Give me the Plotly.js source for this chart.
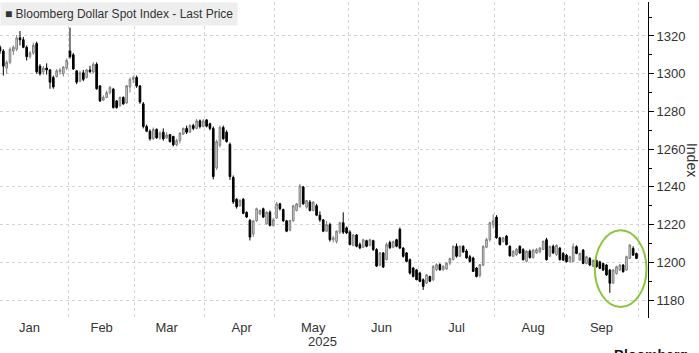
<!DOCTYPE html>
<html>
<head>
<meta charset="utf-8">
<script src="https://cdn.plot.ly/plotly-3.0.1.min.js"></script>
<style>html,body{margin:0;padding:0;background:#fff;}#chart{width:699px;height:353px;}</style>
</head>
<body>
<div id="chart"></div>
<script>
// Bloomberg Dollar Spot Index, daily OHLC, 2025
const dates = [
 '2025-01-02','2025-01-03','2025-01-06','2025-01-07','2025-01-08','2025-01-09','2025-01-10','2025-01-13','2025-01-14','2025-01-15','2025-01-16','2025-01-17','2025-01-20','2025-01-21','2025-01-22','2025-01-23','2025-01-24','2025-01-27','2025-01-28','2025-01-29','2025-01-30','2025-01-31',
 '2025-02-03','2025-02-04','2025-02-05','2025-02-06','2025-02-07','2025-02-10','2025-02-11','2025-02-12','2025-02-13','2025-02-14','2025-02-17','2025-02-18','2025-02-19','2025-02-20','2025-02-21','2025-02-24','2025-02-25','2025-02-26','2025-02-27','2025-02-28',
 '2025-03-03','2025-03-04','2025-03-05','2025-03-06','2025-03-07','2025-03-10','2025-03-11','2025-03-12','2025-03-13','2025-03-14','2025-03-17','2025-03-18','2025-03-19','2025-03-20','2025-03-21','2025-03-24','2025-03-25','2025-03-26','2025-03-27','2025-03-28','2025-03-31',
 '2025-04-01','2025-04-02','2025-04-03','2025-04-04','2025-04-07','2025-04-08','2025-04-09','2025-04-10','2025-04-11','2025-04-14','2025-04-15','2025-04-16','2025-04-17','2025-04-21','2025-04-22','2025-04-23','2025-04-24','2025-04-25','2025-04-28','2025-04-29','2025-04-30',
 '2025-05-01','2025-05-02','2025-05-05','2025-05-06','2025-05-07','2025-05-08','2025-05-09','2025-05-12','2025-05-13','2025-05-14','2025-05-15','2025-05-16','2025-05-19','2025-05-20','2025-05-21','2025-05-22','2025-05-23','2025-05-26','2025-05-27','2025-05-28','2025-05-29','2025-05-30',
 '2025-06-02','2025-06-03','2025-06-04','2025-06-05','2025-06-06','2025-06-09','2025-06-10','2025-06-11','2025-06-12','2025-06-13','2025-06-16','2025-06-17','2025-06-18','2025-06-19','2025-06-20','2025-06-23','2025-06-24','2025-06-25','2025-06-26','2025-06-27','2025-06-30',
 '2025-07-01','2025-07-02','2025-07-03','2025-07-04','2025-07-07','2025-07-08','2025-07-09','2025-07-10','2025-07-11','2025-07-14','2025-07-15','2025-07-16','2025-07-17','2025-07-18','2025-07-21','2025-07-22','2025-07-23','2025-07-24','2025-07-25','2025-07-28','2025-07-29','2025-07-30','2025-07-31',
 '2025-08-01','2025-08-04','2025-08-05','2025-08-06','2025-08-07','2025-08-08','2025-08-11','2025-08-12','2025-08-13','2025-08-14','2025-08-15','2025-08-18','2025-08-19','2025-08-20','2025-08-21','2025-08-22','2025-08-25','2025-08-26','2025-08-27','2025-08-28','2025-08-29',
 '2025-09-01','2025-09-02','2025-09-03','2025-09-04','2025-09-05','2025-09-08','2025-09-09','2025-09-10','2025-09-11','2025-09-12','2025-09-15','2025-09-16','2025-09-17','2025-09-18','2025-09-19','2025-09-22','2025-09-23','2025-09-24','2025-09-25','2025-09-26','2025-09-29','2025-09-30'
];
const openP = [
 1310,1314,1312,1303,1306,1312,1313,1319,1318,1314,1309,1311,1316,1304,1301,1303,1302,1298,1298.5,1301,1300,1303,
 1312,1310,1301.5,1296,1300.5,1298,1302,1301,1305,1293.5,1286,1287.4,1290,1291.8,1285.6,1283,1287.4,1284.5,1293,1297,
 1298,1293.5,1284,1272,1269.5,1265.5,1270.5,1266,1269,1266,1267.7,1266.8,1262.3,1264.5,1268,1271,1269,1272.5,1271,1275,1272,
 1275.5,1273.5,1271,1250,1262,1271.5,1269,1262.5,1245,1233.5,1230,1233.5,1226.5,1222.2,1215,1222,1225.7,1228.4,1220.5,1226.6,1219.6,
 1223.5,1231,1228,1222,1217,1222,1227.5,1229.5,1240,1229.3,1232,1227.5,1230,1225,1222.5,1216.5,1220,1212,1211,1216,1221,1218.3,
 1216,1209,1214.5,1209.5,1208,1211.5,1209,1211.5,1206.8,1198.5,1205,1201.5,1210.5,1208,1212,1217.5,1207.6,1205,1201.4,1197,1196,
 1194.3,1190.8,1189,1192.5,1190.8,1196.1,1198.8,1196.1,1196.5,1199.6,1201.5,1208.5,1203.2,1208.5,1206,1203,1202.3,1197,1193,1198.5,1208,1212,1220,
 1224,1213,1211,1213.9,1208.5,1203.2,1204,1208.5,1206.8,1200.5,1206,1202.5,1205,1205.5,1206.8,1212,1203.2,1208.5,1204,1207.6,1204.7,
 1203.8,1200.3,1200.5,1208.3,1201.2,1206.5,1199.4,1202.1,1198,1201,1200.3,1199.4,1198.6,1195.9,1189,1194.1,1195.9,1198.6,1195.9,1202.1,1207.4,1204.7
];
const highP = [
 1316,1315,1313,1307,1314,1315,1320.5,1322.6,1319.5,1315,1312,1316.5,1317,1305,1304,1305.5,1302.5,1299,1302.5,1303,1304,1308,
 1324.4,1311,1302,1301.5,1302,1302.5,1304.2,1306,1306,1294,1288.5,1291,1293.5,1292.5,1286,1288,1288,1294,1298,1299,
 1299,1294,1285,1273,1270.5,1271.5,1271,1269.5,1271,1269,1268,1267,1265.5,1269,1271.5,1272.5,1273.2,1273.5,1276,1275.7,1276,
 1276,1274,1272,1265,1272.5,1272.5,1270,1263.5,1246,1234,1233.5,1234,1227,1223,1222.5,1229,1228,1229,1227,1227.5,1223.5,
 1232,1231.5,1228.5,1222.5,1222.5,1230.5,1231.5,1241.6,1240.5,1233,1233,1232.5,1231,1227,1223,1222,1221,1214,1217,1221.5,1226.5,1219,
 1217,1215,1215,1210.5,1212.5,1212,1212.5,1212,1207.5,1205.5,1205.5,1210.5,1211.5,1211.5,1212.5,1218.5,1208,1205.5,1202,1197.5,1196.5,
 1195,1191.5,1193.8,1193,1198.5,1199.5,1199.5,1198.5,1200,1202.5,1209,1210,1209,1209,1207,1204,1203,1197.5,1199,1209,1213,1221.5,1225.4,
 1225,1213.5,1213.5,1214.5,1209,1206.5,1207.5,1209,1207.5,1206.5,1206.8,1207,1207.5,1208,1211.5,1213,1208.8,1209.4,1209.5,1208,1205.5,
 1204.5,1203.5,1210,1209,1205.2,1207,1203.5,1202.8,1201.5,1201.5,1200.8,1199.8,1199,1196.5,1196.5,1198.2,1199,1199,1203.5,1209.6,1208.5,1205.2
];
const lowP = [
 1309,1310.5,1299,1300,1305,1310,1312,1315,1313.5,1307,1308,1310,1300,1299,1299.5,1299.5,1292,1292,1298,1299.5,1298.5,1302,
 1308,1302,1294.5,1295.5,1296,1297.5,1300.5,1300,1291.5,1285,1285.5,1287,1289,1281.5,1281.5,1282.5,1283.5,1284,1290,1295,
 1292.5,1284,1271,1269,1264.5,1265,1265.5,1265,1264.5,1265.5,1263.5,1261.5,1261.5,1263,1267.5,1268,1268.5,1270,1270.5,1271,1271.5,
 1271.5,1270,1244,1249,1261,1265,1263.5,1243.7,1231,1228.5,1229.5,1225.5,1223.5,1211.6,1213.5,1221.5,1225,1223.5,1220,1219,1219,
 1223,1227.5,1221.5,1216,1216.5,1221.5,1227,1229,1230.5,1228.5,1227,1227,1224.5,1221.5,1216,1216,1211,1210.5,1210,1215,1215,1215,
 1209,1208.5,1208,1207,1207.5,1208,1208.5,1206,1197.5,1198,1197,1201,1207,1207.5,1208,1207,1202.5,1200,1193.5,1192,1190.5,
 1189.5,1185.4,1188.5,1189.5,1190,1195.5,1195.5,1195.5,1196,1198.5,1201,1202.5,1203,1205,1202,1200,1195,1192,1192,1198,1207.5,1211,1218,
 1212.5,1209,1210.5,1209,1203,1203,1203.5,1204.5,1201,1200,1202,1202,1204.5,1205,1206.5,1201,1203,1204.5,1203.5,1201,1200.8,
 1200,1200,1200,1204.3,1200.8,1199,1199,1198,1197.5,1197.3,1196.4,1195.5,1192.8,1183.9,1188.5,1193.5,1195.5,1194.6,1195.5,1201.8,1203.5,1201.8
];
const closeP = [
 1314,1312,1304,1306,1313,1314,1319,1318,1314,1309,1311,1315,1301,1300,1303,1302,1295.5,1293,1301.5,1302,1303.5,1307,
 1309,1302.5,1295.5,1300.5,1297,1302,1301,1305,1292,1285.6,1287.5,1290,1292.7,1282.1,1282,1287.4,1284,1293.6,1297,1298,
 1293.5,1285,1272,1269.5,1265.5,1270.5,1266,1268.5,1265.5,1267.5,1264,1262.3,1264.5,1268.5,1271,1269,1272.5,1271,1275,1272,1275,
 1272.2,1271,1245.5,1264,1271.5,1265.5,1264,1245.5,1232,1229.5,1232.8,1226,1224,1213.4,1222,1228.4,1227.5,1224,1226.6,1219.6,1222.5,
 1231,1228.4,1222,1216.5,1222.2,1230,1231,1240.5,1231,1232.8,1227.5,1231.9,1225,1222.5,1216.5,1220,1212,1213,1216.5,1221,1216,1215.6,
 1209.5,1214.5,1208.5,1207.6,1212,1208.5,1212,1206.8,1198,1205,1197.5,1209.5,1207.8,1211,1208.5,1207.6,1203.2,1200.5,1194.3,1192.5,1190.8,
 1189.9,1187.2,1193.4,1190,1197.9,1198.8,1196.1,1197.9,1199.6,1202,1208.5,1203.2,1208.5,1205.5,1202.3,1200.5,1195.2,1192.5,1198.8,1208.5,1212.1,1221,1222,
 1213,1209.4,1213,1209.4,1203.5,1205.9,1207,1205,1201.4,1205.9,1202.5,1206.5,1206.8,1207.6,1211.2,1201.4,1208.5,1205,1209,1201.4,1201.2,
 1200.3,1203,1208.3,1204.7,1204.7,1199.4,1203,1198.6,1201,1197.7,1196.8,1195.9,1193.3,1188.9,1195.9,1197.7,1198.6,1195,1203,1209.2,1203.8,1202.1
];
const holidays = ['2025-01-01','2025-04-18'];
const seriesName = 'Bloomberg Dollar Spot Index - Last Price';
const firstMonthLabel = 'Jan';
const yearLabel = '2025';

const FONT = 'Liberation Sans, Arial, sans-serif';

const trace = {
  type: 'candlestick',
  x: dates, open: openP, high: highP, low: lowP, close: closeP,
  xperiod: 86400000, xperiodalignment: 'middle',
  increasing: {line: {color: '#7f7f7f', width: 1}, fillcolor: '#d9d9d9'},
  decreasing: {line: {color: '#000000', width: 1}, fillcolor: '#000000'},
  whiskerwidth: 0,
  hoverinfo: 'skip',
  showlegend: false
};

const layout = {
  width: 699, height: 353,
  margin: {l: 0, r: 51, t: 2, b: 35, pad: 0},
  paper_bgcolor: '#ffffff', plot_bgcolor: '#ffffff',
  font: {family: FONT, size: 13, color: '#333333'},
  showlegend: false,
  xaxis: {
    type: 'date',
    range: ['2025-01-03 12:00', '2025-10-03 23:00'],
    rangebreaks: [{bounds: ['sat', 'mon']}, {values: holidays}],
    rangeslider: {visible: false},
    tick0: '2025-01-01', dtick: 'M1', ticklabelmode: 'period', tickformat: '%b',
    showgrid: true, gridcolor: '#d4d4d4', griddash: 'dot', gridwidth: 1,
    showline: false, zeroline: false, ticks: '',
    tickfont: {family: FONT, size: 13, color: '#333333'},
    fixedrange: true
  },
  yaxis: {
    side: 'right',
    range: [1170.5, 1338],
    tick0: 1180, dtick: 20,
    showgrid: true, gridcolor: '#d4d4d4', griddash: 'dot', gridwidth: 1,
    showline: true, linecolor: '#000000', linewidth: 1,
    ticks: 'outside', ticklen: 5, tickcolor: '#000000', tickwidth: 1,
    minor: {dtick: 10, ticks: 'outside', ticklen: 3, tickcolor: '#000000', showgrid: false},
    zeroline: false,
    tickfont: {family: FONT, size: 13, color: '#333333'},
    fixedrange: true
  },
  shapes: [{
    type: 'circle', xref: 'x', yref: 'y',
    x0: '2025-09-12', x1: '2025-10-03 12:00', y0: 1176.3, y1: 1217,
    line: {color: '#8cc63f', width: 2}
  }],
  annotations: [
    {xref: 'paper', yref: 'paper', x: 0, y: 1, xanchor: 'left', yanchor: 'top',
     text: '■ ' + seriesName, showarrow: false, bgcolor: '#eeeeee', borderpad: 4,
     font: {family: FONT, size: 12, color: '#333333'}},
    {xref: 'paper', yref: 'paper', x: 1.068, y: 0.5, xanchor: 'center', yanchor: 'middle',
     text: 'Index', textangle: 90, showarrow: false,
     font: {family: FONT, size: 14, color: '#333333'}},
    {xref: 'x', yref: 'paper', x: '2025-01-16 12:00', y: -0.029, xanchor: 'center', yanchor: 'middle',
     text: firstMonthLabel, showarrow: false, font: {family: FONT, size: 13, color: '#333333'}},
    {xref: 'paper', yref: 'paper', x: 0.497, y: -0.073, xanchor: 'center', yanchor: 'middle',
     text: yearLabel, showarrow: false, font: {family: FONT, size: 13, color: '#333333'}},
    {xref: 'paper', yref: 'paper', x: 0.944, y: -0.084, xanchor: 'left', yanchor: 'top',
     text: '<b>Bloomberg</b>', showarrow: false, font: {family: FONT, size: 14, color: '#111111'}}
  ]
};

Plotly.newPlot('chart', [trace], layout, {staticPlot: true, displayModeBar: false});
</script>
</body>
</html>
